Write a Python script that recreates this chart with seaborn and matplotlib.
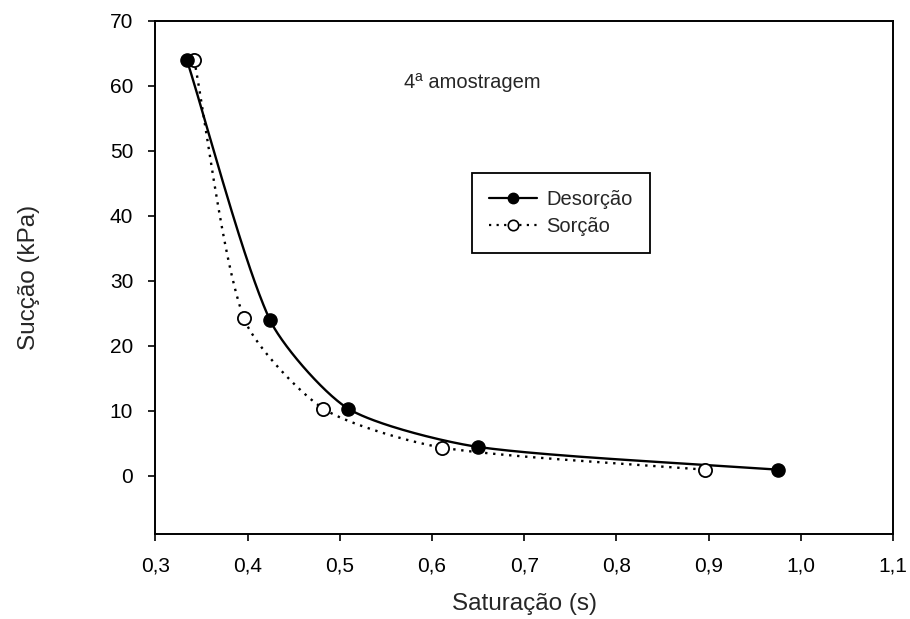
import numpy as np
import pandas as pd
import matplotlib
matplotlib.use("Agg")
import matplotlib.pyplot as plt
from matplotlib.lines import Line2D
import seaborn as sns

# Water retention data: saturation vs. suction
sat_desorcao = [0.334, 0.424, 0.509, 0.650, 0.975]
suc_desorcao = [64.0, 24.0, 10.3, 4.4, 0.9]
sat_sorcao = [0.342, 0.396, 0.482, 0.611, 0.896]
suc_sorcao = [64.0, 24.2, 10.3, 4.3, 0.9]

x_ticks = [0.3, 0.4, 0.5, 0.6, 0.7, 0.8, 0.9, 1.0, 1.1]
x_tick_labels = ["0,3", "0,4", "0,5", "0,6", "0,7", "0,8", "0,9", "1,0", "1,1"]
y_ticks = [0, 10, 20, 30, 40, 50, 60, 70]

DOTTED = (0, (1, 2.4))


def tension_spline(pts, n=80, k=0.7):
    """Hermite curve through points; tangent directions follow the chord
    between neighbours and are scaled to each segment's length by k."""
    P = np.asarray(pts, float)
    seg = np.diff(P, axis=0)
    L = np.linalg.norm(seg, axis=1)
    dirs = np.empty_like(P)
    dirs[0] = seg[0] / L[0]
    dirs[-1] = seg[-1] / L[-1]
    for i in range(1, len(P) - 1):
        c = P[i + 1] - P[i - 1]
        dirs[i] = c / np.linalg.norm(c)
    t = np.linspace(0, 1, n)[:, None]
    h00 = 2 * t**3 - 3 * t**2 + 1
    h10 = t**3 - 2 * t**2 + t
    h01 = -2 * t**3 + 3 * t**2
    h11 = t**3 - t**2
    out = []
    for i in range(len(P) - 1):
        m0 = k * L[i] * dirs[i]
        m1 = k * L[i] * dirs[i + 1]
        c = h00 * P[i] + h10 * m0 + h01 * P[i + 1] + h11 * m1
        out.append(c if i == 0 else c[1:])
    return np.vstack(out)


def smooth(ax, xv, yv):
    # spline in display space so the curve bends evenly on screen
    disp = ax.transData.transform(np.column_stack([xv, yv]))
    curve = ax.transData.inverted().transform(tension_spline(disp))
    return pd.DataFrame({"x": curve[:, 0], "y": curve[:, 1]})


sns.set_style("ticks")
plt.rcParams["font.family"] = ["Liberation Sans", "DejaVu Sans"]

fig = plt.figure(figsize=(9.1, 6.19), dpi=100)
ax = fig.add_axes([0.1708, 0.1373, 0.8105, 0.8293])
ax.set_xlim(0.3, 1.1)
ax.set_ylim(-9, 70)

curve_d = smooth(ax, sat_desorcao, suc_desorcao)
curve_s = smooth(ax, sat_sorcao, suc_sorcao)
sns.lineplot(data=curve_d, x="x", y="y", ax=ax, color="black",
             linewidth=1.7, linestyle="-", sort=False, estimator=None)
sns.lineplot(data=curve_s, x="x", y="y", ax=ax, color="black",
             linewidth=1.7, linestyle=DOTTED, sort=False, estimator=None)

pts_d = pd.DataFrame({"x": sat_desorcao, "y": suc_desorcao})
pts_s = pd.DataFrame({"x": sat_sorcao, "y": suc_sorcao})
sns.scatterplot(data=pts_s, x="x", y="y", ax=ax, s=90, color="white",
                edgecolor="black", linewidth=1.3, zorder=4)
sns.scatterplot(data=pts_d, x="x", y="y", ax=ax, s=90, color="black",
                edgecolor="black", linewidth=1.0, zorder=5)

ax.set_xlim(0.3, 1.1)
ax.set_ylim(-9, 70)
ax.set_xticks(x_ticks)
ax.set_xticklabels(x_tick_labels)
ax.set_yticks(y_ticks)
ax.tick_params(direction="out", length=5, width=1.2, labelsize=15,
               colors="black", pad=11)
for sp in ax.spines.values():
    sp.set_visible(True)
    sp.set_linewidth(1.4)
    sp.set_color("black")

ax.set_xlabel("Saturação (s)", fontsize=17.5, labelpad=13)
ax.set_ylabel("Sucção (kPa)", fontsize=17.5, labelpad=50)

ax.text(0.644, 60.5, "4ª amostragem", fontsize=14.5, ha="center",
        va="center")

handles = [
    Line2D([], [], color="black", linewidth=1.6, marker="o", markersize=7.5,
           markerfacecolor="black", markeredgecolor="black"),
    Line2D([], [], color="black", linewidth=1.6, linestyle=DOTTED,
           marker="o", markersize=7.5, markerfacecolor="white",
           markeredgecolor="black", markeredgewidth=1.2),
]
leg = ax.legend(handles, ["Desorção", "Sorção"], loc="upper left",
                bbox_to_anchor=(0.429, 0.703), fontsize=14.5, frameon=True,
                fancybox=False, edgecolor="black", framealpha=1,
                borderaxespad=0, handlelength=2.4, borderpad=0.85,
                labelspacing=0.4, handletextpad=0.45)
leg.get_frame().set_linewidth(1.3)

fig.savefig("out.png", dpi=100, facecolor="white")
